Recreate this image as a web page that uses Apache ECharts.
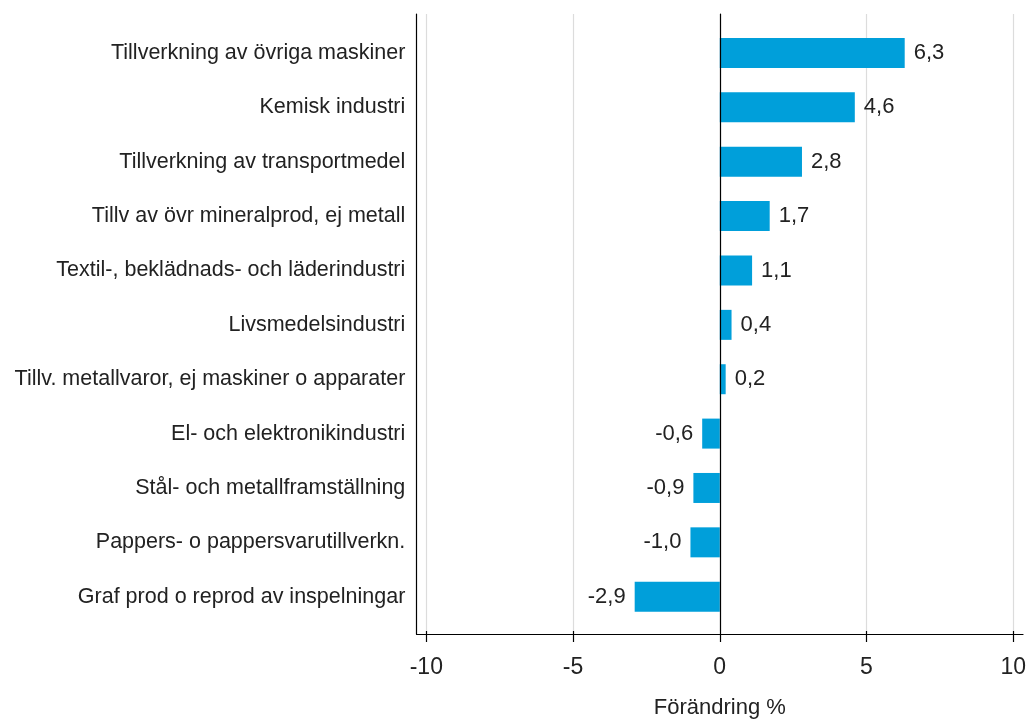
<!DOCTYPE html>
<html>
<head>
<meta charset="utf-8">
<script src="https://cdn.jsdelivr.net/npm/echarts@6/dist/echarts.min.js"></script>
<style>
  html, body { margin: 0; padding: 0; background: #fff; }
  #chart { width: 1029px; height: 724px; }
</style>
</head>
<body>
<div id="chart"></div>
<script>
// branscher, uppifrån och ned
var categories = [
  'Tillverkning av övriga maskiner',
  'Kemisk industri',
  'Tillverkning av transportmedel',
  'Tillv av övr mineralprod, ej metall',
  'Textil-, beklädnads- och läderindustri',
  'Livsmedelsindustri',
  'Tillv. metallvaror, ej maskiner o apparater',
  'El- och elektronikindustri',
  'Stål- och metallframställning',
  'Pappers- o pappersvarutillverkn.',
  'Graf prod o reprod av inspelningar'
]
var changes = [6.3, 4.6, 2.8, 1.7, 1.1, 0.4, 0.2, -0.6, -0.9, -1.0, -2.9]
var axisName = 'Förändring %'

var font = 'Arial, "Liberation Sans", sans-serif'
var textColor = '#222'
var barColor = '#009fda'

var chart = echarts.init(document.getElementById('chart'))

function fmt(v) {
  return v.toFixed(1).replace('.', ',')
}

chart.setOption({
  animation: false,
  textStyle: { fontFamily: font },
  grid: [
    // ram med vänster axel och x-axellinje
    { left: 416.5, right: 6, top: 14, bottom: 90 },
    // skala, stödlinjer och nollinje
    { left: 426.3, right: 15.7, top: 14, bottom: 90 },
    // staplar
    { left: 426.3, right: 15.7, top: 25.8, bottom: 100.1 }
  ],
  xAxis: [
    {
      gridIndex: 0, type: 'value', min: -10.33, max: 10.33,
      axisLine: { show: true, onZero: false, lineStyle: { color: '#000', width: 1.2 } },
      axisTick: { show: false }, axisLabel: { show: false }, splitLine: { show: false }
    },
    {
      gridIndex: 1, type: 'value', min: -10, max: 10, interval: 5,
      axisLine: { show: false, onZero: false },
      axisTick: { show: true, length: 11, lineStyle: { color: '#000', width: 1.2 } },
      axisLabel: { color: textColor, fontSize: 23, margin: 25, fontFamily: font },
      splitLine: { show: true, lineStyle: { color: '#dcdcdc', width: 1.2 } },
      name: axisName, nameLocation: 'middle', nameGap: 66,
      nameTextStyle: { color: textColor, fontSize: 22, fontFamily: font }
    },
    {
      gridIndex: 2, type: 'value', min: -10, max: 10, show: false
    }
  ],
  yAxis: [
    {
      gridIndex: 0, type: 'value', min: 0, max: 1,
      axisLine: { show: true, onZero: false, lineStyle: { color: '#000', width: 1.2 } },
      axisTick: { show: false }, axisLabel: { show: false }, splitLine: { show: false }
    },
    {
      gridIndex: 1, type: 'value', min: 0, max: 1, z: 5,
      axisLine: { show: true, onZero: true, lineStyle: { color: '#000', width: 1.2 } },
      axisTick: { show: false }, axisLabel: { show: false }, splitLine: { show: false }
    },
    {
      gridIndex: 2, type: 'category', inverse: true, data: categories,
      axisLine: { show: false }, axisTick: { show: false },
      axisLabel: { color: textColor, fontSize: 21.5, margin: 21, fontFamily: font }
    }
  ],
  series: [{
    type: 'bar',
    xAxisIndex: 2,
    yAxisIndex: 2,
    // negativa värden får etiketten till vänster
    data: changes.map(function (v) {
      return v < 0 ? { value: v, label: { position: 'left' } } : v
    }),
    barWidth: 30,
    itemStyle: { color: barColor },
    label: {
      show: true,
      position: 'right',
      distance: 9,
      color: textColor,
      fontSize: 22,
      fontFamily: font,
      formatter: function (p) { return fmt(p.value) }
    }
  }]
})
</script>
</body>
</html>
